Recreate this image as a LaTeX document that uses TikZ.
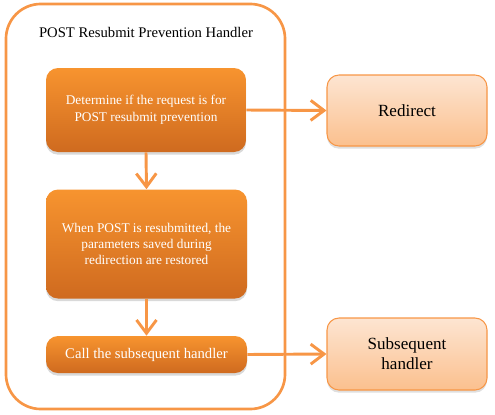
\documentclass[tikz,border=0pt]{standalone}
\usepackage{fontspec}
\setmainfont{Liberation Serif}
\usetikzlibrary{arrows.meta,shadows}
\definecolor{acc}{HTML}{F79646}
\definecolor{dtop}{HTML}{F7942F}
\definecolor{dbot}{HTML}{CF6A1F}
\definecolor{ltop}{HTML}{FDE5D2}
\definecolor{lbot}{HTML}{FBC08E}
\tikzset{
  darkbox/.style={rounded corners=9pt, top color=dtop, bottom color=dbot, draw=none,
    text=white, align=center, inner sep=2pt,
    drop shadow={opacity=0.3, shadow xshift=0pt, shadow yshift=-2pt}},
  lightbox/.style={rounded corners=9pt, top color=ltop, bottom color=lbot, draw=acc, line width=0.8pt,
    text=black, align=center, inner sep=2pt, font=\fontsize{12.8}{15}\selectfont,
    drop shadow={opacity=0.25, shadow xshift=0pt, shadow yshift=-2pt}},
  conn/.style={draw=acc, line width=2.2pt, -{Straight Barb[length=10pt,width=15pt,line width=2.2pt]}},
}
\begin{document}
\begin{tikzpicture}[x=0.75pt,y=-0.75pt]
\useasboundingbox (0,0) rectangle (495,414);
% container
\draw[acc, line width=2pt, rounded corners=26pt] (6,4) rectangle (285,409);
\coordinate (container) at (145.5,206.5);
\node (title) at (146,32) {\fontsize{11}{13}\selectfont POST Resubmit Prevention Handler};
% inner boxes
\node[darkbox, minimum width=150pt, minimum height=63pt, font=\fontsize{10}{12.5}\selectfont] (b1) at (146,110)
  {Determine if the request is for\\POST resubmit prevention};
\node[darkbox, minimum width=150.75pt, minimum height=81.75pt, font=\fontsize{10}{12.2}\selectfont] (b2) at (146.5,244)
  {When POST is resubmitted, the\\parameters saved during\\redirection are restored};
\node[darkbox, minimum width=150.75pt, minimum height=27.75pt, font=\fontsize{11}{13}\selectfont] (b3) at (146.5,354.5)
  {Call the subsequent handler};
% right boxes
\node[lightbox, minimum width=120pt, minimum height=53.25pt] (r1) at (407,110.5) {Redirect};
\node[lightbox, minimum width=120pt, minimum height=54pt] (r2) at (407,354) {Subsequent\\handler};
% connectors
\draw[conn] (b1.south) -- (b2.north);
\draw[conn] (b2.south) -- (b3.north);
\draw[conn] (b1.east) -- (r1.west);
\draw[conn] (b3.east) -- (r2.west);
\end{tikzpicture}
\end{document}
